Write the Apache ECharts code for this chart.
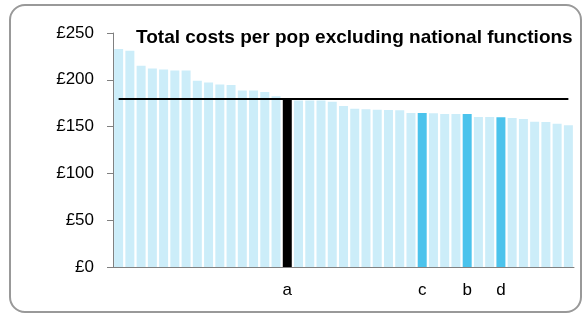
<!DOCTYPE html>
<html><head><meta charset="utf-8">
<script src="https://cdn.jsdelivr.net/npm/echarts@6/dist/echarts.min.js"></script>
<style>html,body{margin:0;padding:0;background:#fff}#c{width:583px;height:317px}</style>
</head><body><div id="c"></div>
<script>
const categories = ['','','','','','','','','','','','','','','','a','','','','','','','','','','','','c','','','','b','','','d','','','','','',''];
const values = [233,231,215,212,211,210,210,199,197,195,194.5,188.5,188.5,187,182.5,180,178,178,178,176.5,172,169,168.5,168,167.7,167.4,164.5,164.5,164.2,163.5,163.5,163.5,160.3,160.3,160,159.2,158,155.3,155,153,151.5];
const highlightA = ['a'];
const highlightOthers = ['b','c','d'];
const averageLine = 179.5;
const yTicks = [0,50,100,150,200,250];
const titleText = 'Total costs per pop excluding national functions';

const barData = values.map((v,i)=>{
  const c = categories[i];
  let color = '#CCEDF9';
  if (highlightA.includes(c)) color = '#000000';
  else if (highlightOthers.includes(c)) color = '#4BC3EC';
  return {value:v, itemStyle:{color}};
});
const FONT = 'Arial, "Liberation Sans", sans-serif';
const chart = echarts.init(document.getElementById('c'));
chart.setOption({
  animation:false,
  grid:{left:113,right:9,top:33,bottom:50},
  graphic:[
    {type:'rect',shape:{x:10,y:5,width:571,height:307,r:15},style:{fill:'none',stroke:'#999',lineWidth:2},z:-1},
    {type:'text',left:136,top:28,style:{text:titleText,font:'bold 19px Arial, "Liberation Sans", sans-serif',fill:'#000'}}
  ],
  xAxis:{type:'category',data:categories,
    axisLine:{lineStyle:{color:'#808080',width:1}},axisTick:{show:false},
    axisLabel:{interval:0,margin:15,fontSize:17,color:'#000',fontFamily:FONT}},
  yAxis:{type:'value',min:yTicks[0],max:yTicks[yTicks.length-1],interval:50,
    splitLine:{show:false},
    axisLine:{show:true,lineStyle:{color:'#808080'}},
    axisTick:{show:true,length:6,lineStyle:{color:'#808080'}},
    axisLabel:{formatter:v=>'£'+v,fontSize:17,color:'#000',margin:19,fontFamily:FONT}},
  series:[
    {type:'bar',data:barData,barCategoryGap:'20%'},
    {type:'line',data:values.map(()=>averageLine),symbol:'none',lineStyle:{color:'#000',width:2},z:5}
  ]
});
</script></body></html>
